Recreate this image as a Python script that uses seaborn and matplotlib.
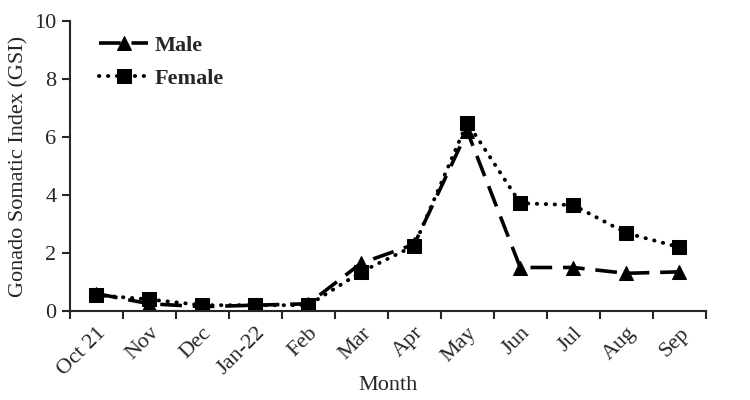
import pandas as pd
import seaborn as sns
import numpy as np
import matplotlib.pyplot as plt

months = ['Oct 21', 'Nov', 'Dec', 'Jan-22', 'Feb', 'Mar', 'Apr', 'May',
          'Jun', 'Jul', 'Aug', 'Sep']
male = [0.6, 0.25, 0.15, 0.2, 0.25, 1.65, 2.3, 6.2, 1.5, 1.5, 1.3, 1.35]
female = [0.55, 0.4, 0.2, 0.2, 0.2, 1.35, 2.25, 6.5, 3.72, 3.65, 2.69, 2.2]

sns.set_style('ticks')
plt.rcParams['font.family'] = ['Liberation Serif', 'DejaVu Serif']

df = pd.DataFrame({'Month': months, 'Male': male, 'Female': female})
df['pos'] = np.arange(len(months))

fig = plt.figure(figsize=(7.5, 4), dpi=100)
ax = fig.add_axes([0.093, 0.2225, 0.848, 0.725])

sns.lineplot(data=df, x='pos', y='Male', ax=ax, color='black', lw=2.6,
             marker='^', markersize=10, markeredgecolor='black',
             dashes=False, label='Male')
ax.lines[-1].set_linestyle((0, (6, 3)))

sns.lineplot(data=df, x='pos', y='Female', ax=ax, color='black', lw=2.8,
             marker='s', markersize=9.5, markeredgecolor='black',
             dashes=False, label='Female')
ax.lines[-1].set_linestyle((0, (0.1, 2.2)))
ax.lines[-1].set_dash_capstyle('round')

ax.set_xlim(-0.5, 11.5)
ax.set_ylim(0, 10)
ax.set_yticks([0, 2, 4, 6, 8, 10])
ax.set_xticks(df['pos'])
ax.set_xticklabels(months, rotation=45, ha='right', rotation_mode='anchor')
ax.set_xticks(np.arange(-0.5, 12, 1), minor=True)
ax.tick_params(axis='x', which='major', length=0, labelsize=16, pad=9)
ax.tick_params(axis='x', which='minor', length=6, width=1.5, direction='out')
ax.tick_params(axis='y', length=6, width=1.5, labelsize=16)

for s in ['top', 'right']:
    ax.spines[s].set_visible(False)
ax.spines['left'].set_linewidth(1.5)
ax.spines['bottom'].set_linewidth(1.5)

ax.set_xlabel('Month', fontsize=16, labelpad=-2)
ax.set_ylabel('Gonado Somatic Index (GSI)', fontsize=16, labelpad=4)

leg = ax.legend(loc='upper left', bbox_to_anchor=(0.015, 1.02), frameon=False,
                prop={'weight': 'bold', 'size': 16}, handlelength=2.2,
                handletextpad=0.3, labelspacing=0.55)

fig.savefig('out.png', dpi=100)
